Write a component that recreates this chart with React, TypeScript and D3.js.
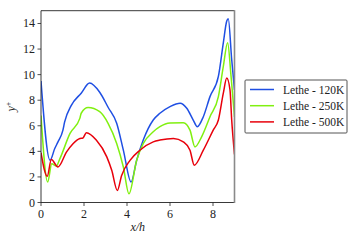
import React from "react";
import * as d3 from "d3";

const xTicks = [0, 2, 4, 6, 8];
const yTicks = [0, 2, 4, 6, 8, 10, 12, 14];

const blueX = [0, 0.42, 0.64, 0.79, 1.02, 1.1, 1.41, 1.87, 2.26, 2.73, 3.12, 3.52, 3.83, 4.19, 4.45, 4.76, 5.22, 5.53, 6.0, 6.47, 6.78, 7.08, 7.27, 7.55, 7.86, 8.25, 8.48, 8.64, 8.71, 8.87, 9.0];
const blueY = [9.5, 3.3, 4.22, 4.74, 5.66, 6.3, 7.6, 8.55, 9.34, 8.62, 7.45, 6.2, 4.1, 1.6, 3.3, 4.9, 6.45, 6.98, 7.5, 7.77, 7.37, 6.45, 5.93, 6.71, 8.28, 9.86, 12.49, 14.19, 14.37, 11.17, 8.8];

const greenX = [0, 0.31, 0.5, 0.71, 0.88, 1.35, 1.81, 1.87, 2.19, 2.73, 3.12, 3.52, 3.83, 4.09, 4.45, 4.76, 5.22, 5.53, 6.0, 6.62, 6.93, 7.16, 7.47, 7.86, 8.25, 8.48, 8.68, 8.84, 9.0];
const greenY = [6.8, 1.6, 3.04, 2.85, 3.43, 5.4, 6.6, 6.98, 7.42, 7.1, 6.19, 4.62, 2.78, 0.68, 3.3, 4.62, 5.53, 5.93, 6.22, 6.24, 5.66, 4.35, 5.14, 6.71, 8.28, 10.64, 12.49, 9.86, 6.7];

const redX = [0, 0.29, 0.48, 0.79, 1.19, 1.5, 1.81, 1.95, 2.11, 2.57, 3.06, 3.29, 3.55, 3.75, 4.14, 4.6, 5.22, 5.53, 6.16, 6.62, 6.93, 7.13, 7.55, 8.01, 8.25, 8.48, 8.64, 8.79, 8.87, 9.0];
const redY = [3.9, 2.05, 3.36, 2.78, 3.96, 4.62, 5.01, 5.05, 5.45, 4.88, 3.57, 2.52, 0.94, 2.12, 3.3, 4.09, 4.74, 4.88, 5.01, 4.74, 4.09, 2.91, 4.09, 5.66, 6.45, 8.55, 9.73, 8.81, 6.45, 3.75];

const seriesNames = ["Lethe - 120K", "Lethe - 250K", "Lethe - 500K"];
const seriesColors = ["#1f4fe3", "#80f010", "#e8000b"];

export default function App() {
  const W = 360, H = 240;
  const left = 41, right = 234.5, top = 10.7, bottom = 202.5;
  const x = d3.scaleLinear().domain([0, 9]).range([left, right]);
  const y = d3.scaleLinear().domain([0, 15]).range([bottom, top]);
  const line = d3
    .line<[number, number]>()
    .x((d) => x(d[0]))
    .y((d) => y(d[1]))
    .curve(d3.curveMonotoneX);
  const series = [
    blueX.map((v, i) => [v, blueY[i]] as [number, number]),
    greenX.map((v, i) => [v, greenY[i]] as [number, number]),
    redX.map((v, i) => [v, redY[i]] as [number, number]),
  ];
  const tStyle: React.CSSProperties = { fontFamily: '"Liberation Serif", "DejaVu Serif", serif' };
  const axisColor = "#222";
  return (
    <svg width={W} height={H} style={{ position: "absolute", left: 0, top: 0 }}>
      <rect x={0} y={0} width={W} height={H} fill="#fff" />
      <defs>
        <clipPath id="plotclip">
          <rect x={left} y={top} width={right - left} height={bottom - top} />
        </clipPath>
      </defs>
      <g clipPath="url(#plotclip)">
        {series.map((s, i) => (
          <path key={i} d={line(s) || ""} fill="none" stroke={seriesColors[i]} strokeWidth={1.5} strokeLinejoin="round" />
        ))}
      </g>
      <path d={`M${right},${top}H${left}V${bottom}H${right}`} fill="none" stroke={axisColor} strokeWidth={0.9} />
      <line x1={right} x2={right} y1={top - 0.5} y2={bottom + 0.5} stroke="#8a8a8a" strokeWidth={1.6} />
      {xTicks.map((t) => (
        <g key={"x" + t}>
          <line x1={x(t)} x2={x(t)} y1={bottom} y2={bottom + 3.5} stroke={axisColor} strokeWidth={0.8} />
          <text x={x(t)} y={bottom + 15} textAnchor="middle" fontSize={12} fill="#222" style={tStyle}>{t}</text>
        </g>
      ))}
      {yTicks.map((t) => (
        <g key={"y" + t}>
          <line x1={left - 3.5} x2={left} y1={y(t)} y2={y(t)} stroke={axisColor} strokeWidth={0.8} />
          <text x={left - 6} y={y(t) + 4} textAnchor="end" fontSize={12} fill="#222" style={tStyle}>{t}</text>
        </g>
      ))}
      <text x={(left + right) / 2} y={231} textAnchor="middle" fontSize={12} fontStyle="italic" fill="#222" style={tStyle}>x/h</text>
      <text transform={`translate(15,${(top + bottom) / 2}) rotate(-90)`} textAnchor="middle" fontSize={12} fontStyle="italic" fill="#222" style={tStyle}>
        y<tspan dy={-4} fontSize={8} fontStyle="normal">+</tspan>
      </text>
      <rect x={245} y={80} width={102} height={53} fill="#fff" stroke="#555" strokeWidth={1} rx={1} />
      {seriesNames.map((n, i) => (
        <g key={n}>
          <line x1={250} x2={274} y1={89.5 + i * 16.2} y2={89.5 + i * 16.2} stroke={seriesColors[i]} strokeWidth={1.5} />
          <text x={283} y={93.5 + i * 16.2} fontSize={11.5} fill="#222" style={tStyle}>{n}</text>
        </g>
      ))}
    </svg>
  );
}
